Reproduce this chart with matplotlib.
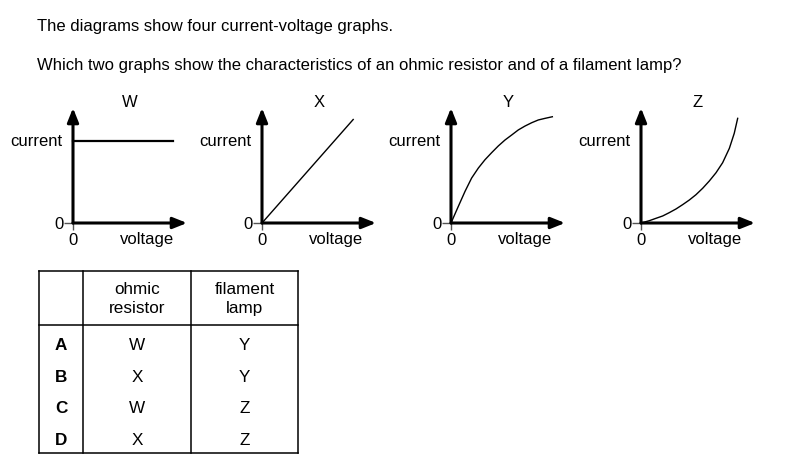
import matplotlib
matplotlib.use("Agg")
import matplotlib.pyplot as plt

plt.rcParams['font.family'] = ['Liberation Sans', 'DejaVu Sans']

# heading
line1 = "The diagrams show four current-voltage graphs."
line2 = "Which two graphs show the characteristics of an ohmic resistor and of a filament lamp?"

# four I-V graphs (voltage, current), axis tips at 10
names = ["W", "X", "Y", "Z"]
volt_W = [0, 8.8]
curr_W = [7.1, 7.1]
volt_X = [0, 8.0]
curr_X = [0, 9.0]
volt_Y = [0, 0.64, 1.23, 1.81, 2.4, 2.98, 3.57, 4.15, 4.74, 5.32, 5.9, 6.49, 7.08, 7.66, 8.25, 8.89]
curr_Y = [0, 1.44, 2.75, 3.91, 4.78, 5.5, 6.12, 6.7, 7.22, 7.65, 8.09, 8.43, 8.72, 8.96, 9.1, 9.24]
volt_Z = [0, 0.73, 1.32, 1.9, 2.48, 3.07, 3.66, 4.24, 4.82, 5.41, 5.99, 6.58, 7.16, 7.75, 8.18, 8.48]
curr_Z = [0, 0.2, 0.41, 0.61, 0.9, 1.22, 1.6, 2.0, 2.46, 3.02, 3.65, 4.37, 5.24, 6.49, 7.8, 9.1]
curves = [(volt_W, curr_W), (volt_X, curr_X), (volt_Y, curr_Y), (volt_Z, curr_Z)]

# answer table
col_heads = ["", "ohmic\nresistor", "filament\nlamp"]
options = ["A", "B", "C", "D"]
ohmic = ["W", "X", "W", "X"]
lamp = ["Y", "Y", "Z", "Z"]

W_PX, H_PX = 811, 471
FS = 12
fig = plt.figure(figsize=(W_PX / 100, H_PX / 100), dpi=100)

fig.text(37 / W_PX, 1 - 31 / H_PX, line1, fontsize=FS, va='baseline')
fig.text(37 / W_PX, 1 - 70 / H_PX, line2, fontsize=FS, va='baseline')

origins = [73, 262, 451, 641]
for name, x0, (v, c) in zip(names, origins, curves):
    ax = fig.add_axes([x0 / W_PX, (H_PX - 223) / H_PX, 114 / W_PX, 115 / H_PX])
    ax.set_xlim(0, 10)
    ax.set_ylim(0, 10)
    ax.patch.set_visible(False)
    for s in ax.spines.values():
        s.set_visible(False)
    arrow = dict(arrowstyle='-|>,head_length=0.7,head_width=0.28', lw=2.2,
                 color='black', shrinkA=0, shrinkB=0, mutation_scale=12)
    ax.annotate('', xy=(10, 0), xytext=(0, 0), arrowprops=arrow, annotation_clip=False)
    ax.annotate('', xy=(0, 10), xytext=(0, 0), arrowprops=arrow, annotation_clip=False)
    ax.plot(v, c, color='black', lw=1.6 if name == "W" else 1.0, clip_on=False)
    ax.set_xticks([0])
    ax.set_yticks([0])
    ax.tick_params(axis='y', length=6.5, width=1.0, color='#555555', pad=0.5, labelsize=FS)
    ax.tick_params(axis='x', length=5, width=1.0, color='#555555', pad=2.0, labelsize=FS)
    ax.text(-0.95, 6.7, "current", ha='right', va='baseline', fontsize=FS)
    ax.text(6.45, -1.83, "voltage", ha='center', va='baseline', fontsize=FS)
    ax.text(5.0, 10.1, name, ha='center', va='baseline', fontsize=FS)

# table
tl, tt, tr, tb = 39, 271, 298, 453
tax = fig.add_axes([tl / W_PX, (H_PX - tb) / H_PX, (tr - tl) / W_PX, (tb - tt) / H_PX])
tax.set_xlim(tl, tr)
tax.set_ylim(tb, tt)
tax.axis('off')
col_edges = [39, 83, 191, 298]
head_bottom = 325
for xe in col_edges:
    tax.plot([xe, xe], [tt, tb], color='black', lw=1.1, clip_on=False)
for ye in [tt, head_bottom, tb]:
    tax.plot([tl, tr], [ye, ye], color='black', lw=1.1, clip_on=False)

centers = [(col_edges[i] + col_edges[i + 1]) / 2 for i in range(3)]
for cx, head in zip(centers, col_heads):
    if head:
        top, bottom = head.split("\n")
        tax.text(cx, 294, top, ha='center', va='baseline', fontsize=12.3)
        tax.text(cx, 313, bottom, ha='center', va='baseline', fontsize=12.3)
row_base = [350, 382, 413, 445]
for yb, opt, o, l in zip(row_base, options, ohmic, lamp):
    tax.text(centers[0], yb, opt, ha='center', va='baseline', fontsize=12.3, fontweight='bold')
    tax.text(centers[1], yb, o, ha='center', va='baseline', fontsize=12.3)
    tax.text(centers[2], yb, l, ha='center', va='baseline', fontsize=12.3)

fig.savefig("out.png", dpi=100, facecolor='white')
